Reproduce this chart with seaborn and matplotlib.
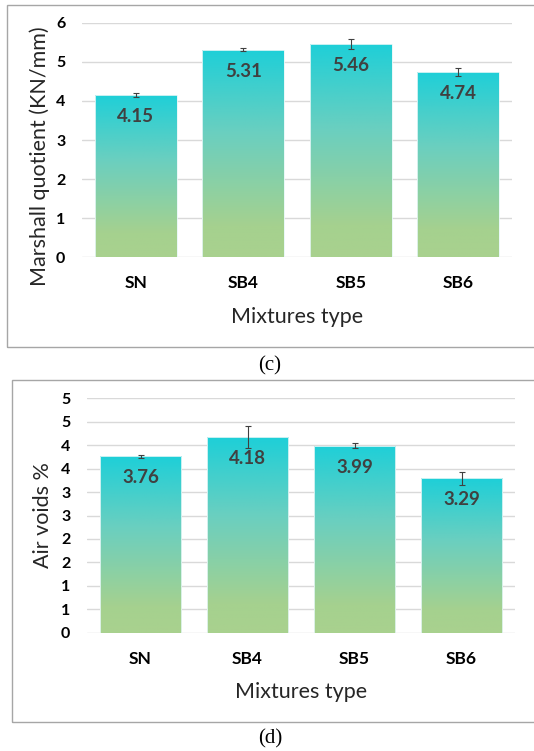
import numpy as np
import pandas as pd
import matplotlib
matplotlib.use("Agg")
import matplotlib.pyplot as plt
import seaborn as sns
from matplotlib.colors import LinearSegmentedColormap
from matplotlib.patches import Rectangle

# ---- data ----
mixtures = ["SN", "SB4", "SB5", "SB6"]
marshall_quotient = [4.15, 5.31, 5.46, 4.74]
marshall_err = [0.04, 0.035, 0.13, 0.10]
air_voids = [3.76, 4.18, 3.99, 3.29]
air_err = [0.03, 0.235, 0.05, 0.14]
mq_ticks = [0, 1, 2, 3, 4, 5, 6]
mq_ticklabels = ["0", "1", "2", "3", "4", "5", "6"]
av_ticks = [0, 0.5, 1, 1.5, 2, 2.5, 3, 3.5, 4, 4.5, 5]
av_ticklabels = ["0", "1", "1", "2", "2", "3", "3", "4", "4", "5", "5"]

sns.set_theme(style="white")
plt.rcParams["font.family"] = ["Lato", "DejaVu Sans"]

W, H = 534, 751
fig = plt.figure(figsize=(W / 100, H / 100), dpi=100)
cmap = LinearSegmentedColormap.from_list("g", [(0, "#A9D18E"), (0.15, "#A5D18F"),
                                               (0.6, "#6ACFC0"), (1, "#1ECFD8")])
grad = np.linspace(0, 1, 256).reshape(-1, 1)


def panel(rect, values, errs, ticks, ticklabels, ylabel, ylim, ylab_xy):
    ax = fig.add_axes(rect)
    df = pd.DataFrame({"Mixture": mixtures, "Value": values})
    sns.barplot(data=df, x="Mixture", y="Value", ax=ax, width=0.76,
                color="#1ECFD8", errorbar=None, zorder=2)
    for p in ax.patches:
        x0, y0 = p.get_x(), p.get_y()
        w, h = p.get_width(), p.get_height()
        im = ax.imshow(grad, cmap=cmap, origin="lower", aspect="auto",
                       extent=[x0, x0 + w, y0, y0 + h], zorder=2)
        im.set_clip_path(p)
        p.set_facecolor("none")
        p.set_edgecolor("#e6f7f7")
        p.set_linewidth(0.6)
        p.set_zorder(3)
    ax.errorbar(range(len(values)), values, yerr=errs, fmt="none",
                ecolor="#404040", elinewidth=0.8, capsize=2.5, capthick=0.8, zorder=4)
    for i, v in enumerate(values):
        ax.annotate(f"{v:.2f}", (i, v), xytext=(0, -15.5), textcoords="offset points",
                    ha="center", va="center", fontsize=13.5, fontweight="bold",
                    color="#404040", zorder=5)
    ax.set_xlim(-0.5, len(values) - 0.5)
    ax.set_ylim(*ylim)
    ax.set_yticks(ticks)
    ax.set_yticklabels(ticklabels, fontsize=11.5, fontweight="bold", color="#000000")
    ax.set_xticks(range(len(values)))
    ax.set_xticklabels(mixtures, fontsize=12.5, fontweight="bold", color="#000000")
    ax.tick_params(axis="both", length=0)
    ax.tick_params(axis="y", pad=12)
    ax.tick_params(axis="x", pad=13)
    ax.yaxis.grid(True, color="#d9d9d9", linewidth=1.0, zorder=0)
    ax.set_axisbelow(True)
    for s in ax.spines.values():
        s.set_visible(False)
    ax.set_xlabel("Mixtures type", fontsize=15.5, color="#262626", va="center")
    ax.set_ylabel(ylabel, fontsize=15.5, color="#262626", va="center")
    ax.yaxis.set_label_coords(*ylab_xy)
    ax.xaxis.set_label_coords(0.5, -59.5 / (rect[3] * H))
    return ax


ax1 = panel([82 / W, 1 - 257.3 / H, 430 / W, 234.6 / H], marshall_quotient, marshall_err,
            mq_ticks, mq_ticklabels, "Marshall quotient (KN/mm)", (0, 6),
            ((40 - 82) / 430, 0.43))
ax2 = panel([87 / W, 1 - 632.7 / H, 428 / W, 234.4 / H], air_voids, air_err,
            av_ticks, av_ticklabels, "Air voids %", (0, 5), ((43 - 87) / 428, 0.5))

# panel borders
fig.patches.append(Rectangle((7 / W, 1 - 347 / H), 540 / W, 342 / H, transform=fig.transFigure,
                             fill=False, edgecolor="#a6a6a6", linewidth=1.0))
fig.patches.append(Rectangle((12 / W, 1 - 722 / H), 540 / W, 342 / H, transform=fig.transFigure,
                             fill=False, edgecolor="#a6a6a6", linewidth=1.0))

fig.text(270 / W, 1 - 366 / H, "(c)", ha="center", va="center", fontsize=15,
         family=["Liberation Serif", "DejaVu Serif"], color="black")
fig.text(270 / W, 1 - 739 / H, "(d)", ha="center", va="center", fontsize=15,
         family=["Liberation Serif", "DejaVu Serif"], color="black")

fig.savefig("out.png", dpi=100)
